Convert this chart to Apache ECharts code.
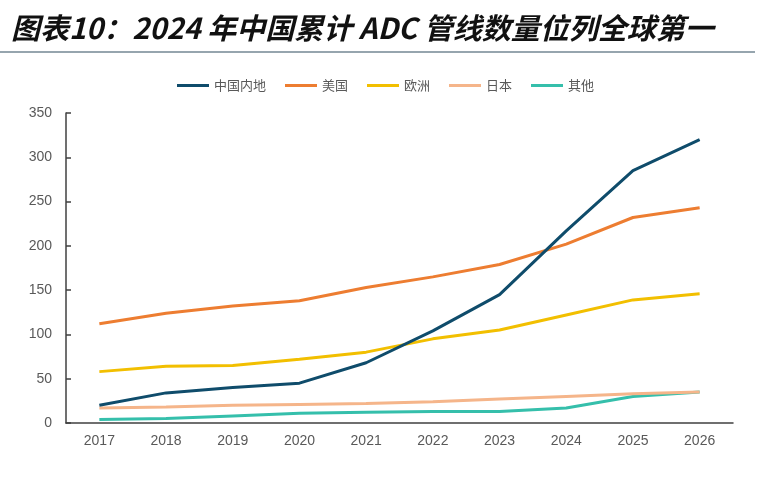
<!DOCTYPE html>
<html>
<head>
<meta charset="utf-8">
<title>2024年中国累计ADC管线数量位列全球第一</title>
<script src="https://cdn.jsdelivr.net/npm/echarts@6/dist/echarts.min.js"></script>
<style>
	html, body { margin: 0; padding: 0; background: #fff; }
	#chart { width: 761px; height: 493px; }
</style>
</head>
<body>
<div id="chart"></div>
<script>
// 年份（X轴）
const years = ["2017", "2018", "2019", "2020", "2021", "2022", "2023", "2024", "2025", "2026"];
// 各地区累计 ADC 管线数量
const chinaData = [20, 34, 40, 45, 68, 104, 145, 217, 285, 320];
const usData = [112, 124, 132, 138, 153, 165, 179, 202, 232, 243];
const europeData = [58, 64, 65, 72, 80, 95, 105, 122, 139, 146];
const japanData = [17, 18, 20, 21, 22, 24, 27, 30, 33, 35];
const otherData = [4, 5, 8, 11, 12, 13, 13, 17, 30, 35];
// 图例名称
const seriesNames = ["中国内地", "美国", "欧洲", "日本", "其他"];
// Y轴刻度
const yTicks = [0, 50, 100, 150, 200, 250, 300, 350];

// 颜色
const colors = ["#0f4c6b", "#ed7d31", "#f2bf00", "#f5b58a", "#35bfab"];
const axisColor = "#404040";
const labelColor = "#595959";

function initChart() {
	const chart = echarts.init(document.getElementById("chart"), null, { renderer: "canvas" });
	const seriesValues = [chinaData, usData, europeData, japanData, otherData];

	const option = {
		animation: false,
		// 标题
		title: {
			text: "图表10：2024 年中国累计 ADC 管线数量位列全球第一",
			left: 6,
			top: 8,
			textStyle: {
				fontFamily: "Noto Sans CJK SC",
				fontSize: 29,
				fontWeight: "bold",
				fontStyle: "italic",
				color: "#111",
			},
		},
		// 标题下分隔线
		graphic: [
			{
				type: "line",
				shape: { x1: 0, y1: 52, x2: 755, y2: 52 },
				style: { stroke: "#2e4d5e", lineWidth: 1.2 },
			},
		],
		// 图例
		legend: {
			data: seriesNames,
			top: 74,
			left: 172,
			icon: "rect",
			itemWidth: 32,
			itemHeight: 3,
			itemGap: 19,
			textStyle: {
				fontFamily: "Noto Sans CJK SC",
				fontSize: 13,
				color: labelColor,
			},
		},
		// 网格
		grid: {
			left: 66,
			right: 28,
			top: 113,
			bottom: 70,
			containLabel: false,
		},
		// X轴
		xAxis: {
			type: "category",
			data: years,
			boundaryGap: true,
			axisLine: { lineStyle: { color: axisColor, width: 1.5 } },
			axisTick: { inside: true, length: 5, lineStyle: { color: axisColor, width: 1.5 } },
			axisLabel: {
				color: labelColor,
				fontFamily: "Liberation Sans",
				fontSize: 14,
				margin: 11,
			},
		},
		// Y轴
		yAxis: {
			type: "value",
			min: yTicks[0],
			max: yTicks[yTicks.length - 1],
			interval: yTicks[1] - yTicks[0],
			splitLine: { show: false },
			axisLine: { show: true, lineStyle: { color: axisColor, width: 1.5 } },
			axisTick: { show: true, inside: true, length: 5, lineStyle: { color: axisColor, width: 1.5 } },
			axisLabel: {
				color: labelColor,
				fontFamily: "Liberation Sans",
				fontSize: 14,
				margin: 14,
			},
		},
		// 数据系列
		series: seriesNames.map((name, index) => ({
			name: name,
			type: "line",
			data: seriesValues[index],
			showSymbol: false,
			symbol: "none",
			lineStyle: { width: 3, color: colors[index] },
			itemStyle: { color: colors[index] },
			z: 10 - index,
		})),
	};
	chart.setOption(option);
}

initChart();
</script>
</body>
</html>
